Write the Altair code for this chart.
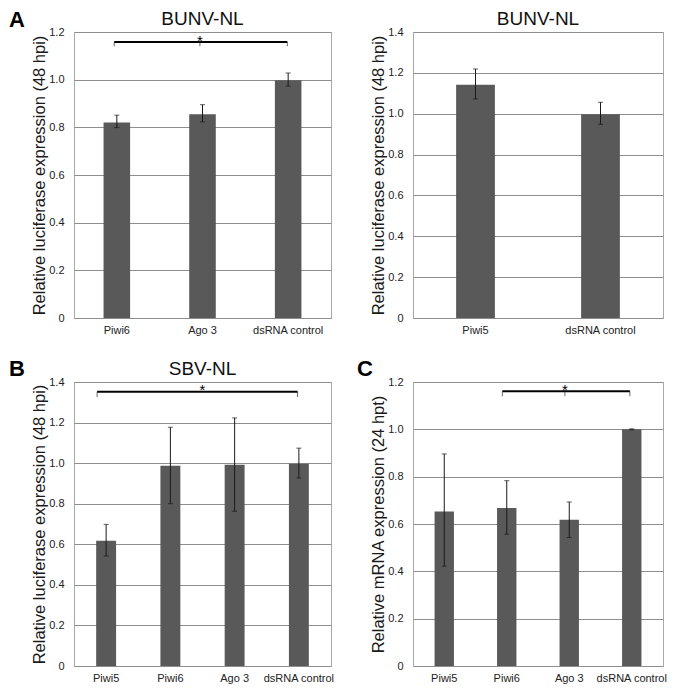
import altair as alt
import pandas as pd

FONT = "Liberation Sans"

# ---------------- data ----------------
# Panel A (left): BUNV-NL
a1_cats = ["Piwi6", "Ago 3", "dsRNA control"]
a1_vals = [0.820, 0.855, 0.998]
a1_lo = [0.799, 0.823, 0.973]
a1_hi = [0.851, 0.895, 1.028]

# Panel A (right): BUNV-NL
a2_cats = ["Piwi5", "dsRNA control"]
a2_vals = [1.142, 0.997]
a2_lo = [1.072, 0.948]
a2_hi = [1.219, 1.056]

# Panel B: SBV-NL
b_cats = ["Piwi5", "Piwi6", "Ago 3", "dsRNA control"]
b_vals = [0.618, 0.987, 0.992, 0.997]
b_lo = [0.542, 0.800, 0.763, 0.927]
b_hi = [0.698, 1.177, 1.223, 1.074]

# Panel C: mRNA expression
c_cats = ["Piwi5", "Piwi6", "Ago 3", "dsRNA control"]
c_vals = [0.653, 0.668, 0.618, 1.000]
c_lo = [0.422, 0.557, 0.543, 0.998]
c_hi = [0.896, 0.783, 0.693, 1.002]

ticks_12 = [0, 0.2, 0.4, 0.6, 0.8, 1.0, 1.2]
ticks_14 = [0, 0.2, 0.4, 0.6, 0.8, 1.0, 1.2, 1.4]

# significance brackets (category + position inside its band)
a1_bracket = {"start": "Piwi6", "start_band": 0.47, "end": "dsRNA control", "end_band": 0.49,
              "feet": ["Piwi6", "Ago 3", "dsRNA control"], "feet_band": [0.47, 0.47, 0.49],
              "star": "Ago 3", "star_band": 0.47, "level": 1.158, "foot": 1.140}
b_bracket = {"start": "Piwi5", "start_band": 0.36, "end": "dsRNA control", "end_band": 0.48,
             "feet": ["Piwi5", "dsRNA control"], "feet_band": [0.36, 0.48],
             "star": "Piwi6", "star_band": 1.0, "level": 1.352, "foot": 1.326}
c_bracket = {"start": "Piwi6", "start_band": 0.43, "end": "dsRNA control", "end_band": 0.47,
             "feet": ["Piwi6", "Ago 3", "dsRNA control"], "feet_band": [0.43, 0.43, 0.47],
             "star": "Ago 3", "star_band": 0.43, "level": 1.161, "foot": 1.140}

LUC_TITLE = "Relative luciferase expression (48 hpi)"
MRNA_TITLE = "Relative mRNA expression (24 hpt)"

BAR_COLOR = "#595959"
GRID_COLOR = "#8e8e8e"


def panel(cats, vals, lo, hi, ymax, ticks, width, height, ytitle, title,
          letter, letter_x, letter_y, bracket):
    df = pd.DataFrame({"cat": cats, "val": vals, "lo": lo, "hi": hi})
    xscale = alt.Scale(domain=cats, paddingInner=0, paddingOuter=0)
    yscale = alt.Scale(domain=[0, ymax], nice=False, zero=True)

    xaxis = alt.Axis(title=None, labelAngle=0, ticks=False, tickSize=0, domain=False,
                     labelPadding=6.5, labelFontSize=11, labelFont=FONT,
                     labelColor="#222222", grid=False, labelOverlap=False)
    yaxis = alt.Axis(values=ticks,
                     labelExpr="datum.value == 0 ? '0' : format(datum.value, '.1f')",
                     ticks=False, tickSize=0, domain=False, labelPadding=10,
                     labelFontSize=11, labelFont=FONT, labelColor="#222222",
                     grid=True, gridColor=GRID_COLOR, gridWidth=1,
                     title=ytitle, titleFont=FONT, titleFontSize=16.5,
                     titleFontWeight="normal", titleColor="#1a1a1a",
                     titleAngle=270, titleBaseline="alphabetic", titleAlign="center",
                     titleX=-30, titleY=height / 2)

    def X(field, **kw):
        return alt.X(field, sort=cats, scale=xscale, axis=xaxis, **kw)

    def Y(field):
        return alt.Y(field, scale=yscale, axis=yaxis)

    bars = alt.Chart(df).mark_bar(width=alt.RelativeBandSize(0.31), color=BAR_COLOR).encode(
        x=X("cat:N"), y=Y("val:Q"))

    err = alt.Chart(df).mark_rule(color="#1a1a1a", strokeWidth=1).encode(
        x=X("cat:N"), y=Y("lo:Q"), y2="hi:Q")
    cap_hi = alt.Chart(df).mark_tick(color="#1a1a1a", thickness=1, size=5).encode(
        x=X("cat:N"), y=Y("hi:Q"))
    cap_lo = alt.Chart(df).mark_tick(color="#1a1a1a", thickness=1, size=5).encode(
        x=X("cat:N"), y=Y("lo:Q"))

    layers = [bars, err, cap_hi, cap_lo]

    if bracket is not None:
        bdf = pd.DataFrame({"start": [bracket["start"]], "end": [bracket["end"]],
                            "level": [bracket["level"]]})
        sdf = pd.DataFrame({"cat": [bracket["star"]], "level": [bracket["level"]], "t": ["*"]})
        for fcat, fband in zip(bracket["feet"], bracket["feet_band"]):
            fdf = pd.DataFrame({"cat": [fcat], "top": [bracket["level"]],
                                "bottom": [bracket["foot"]]})
            layers.append(alt.Chart(fdf).mark_rule(color="#6a6a6a", strokeWidth=1).encode(
                x=X("cat:N", bandPosition=fband), y=Y("bottom:Q"), y2="top:Q"))
        line = alt.Chart(bdf).mark_rule(color="#000000", strokeWidth=2).encode(
            x=X("start:N", bandPosition=bracket["start_band"]),
            x2=alt.X2("end:N", bandPosition=bracket["end_band"]),
            y=Y("level:Q"))
        star = alt.Chart(sdf).mark_text(font=FONT, fontSize=15, color="#000000",
                                        baseline="alphabetic", align="center", dy=3.5).encode(
            x=X("cat:N", bandPosition=bracket["star_band"]),
            y=Y("level:Q"),
            text="t:N")
        layers += [line, star]

    if title:
        tdf = pd.DataFrame({"t": [title]})
        layers.append(alt.Chart(tdf).mark_text(font=FONT, fontSize=19, color="#111111",
                                                baseline="alphabetic", align="center").encode(
            x=alt.value(width / 2), y=alt.value(-7.5), text="t:N"))

    if letter:
        ldf = pd.DataFrame({"t": [letter]})
        layers.append(alt.Chart(ldf).mark_text(font=FONT, fontSize=22, fontWeight="bold",
                                               color="#000000", baseline="alphabetic",
                                               align="left").encode(
            x=alt.value(letter_x), y=alt.value(letter_y), text="t:N"))

    return alt.layer(*layers).properties(width=width, height=height)


HA = 286
HB = 284
WL = 257
WR = 250

pa1 = panel(a1_cats, a1_vals, a1_lo, a1_hi, 1.2, ticks_12, WL, HA, LUC_TITLE, "BUNV-NL",
            "A", -65, -5.5, a1_bracket)
pa2 = panel(a2_cats, a2_vals, a2_lo, a2_hi, 1.4, ticks_14, WR, HA, LUC_TITLE, "BUNV-NL",
            "", -56, -7, None)
pb = panel(b_cats, b_vals, b_lo, b_hi, 1.4, ticks_14, WL, HB, LUC_TITLE, "SBV-NL",
           "B", -65, -6.5, b_bracket)
pc = panel(c_cats, c_vals, c_lo, c_hi, 1.2, ticks_12, WR, HB, MRNA_TITLE, None,
           "C", -56, -6.5, c_bracket)

chart = alt.concat(pa1, pa2, pb, pc, columns=2,
                   spacing={"row": 64, "column": 82}, bounds="flush").properties(
    padding=0, background="white"
).configure_view(stroke="#a8a8a8", strokeWidth=1)

chart.save("out.html", embed_options={"renderer": "svg", "actions": False})
